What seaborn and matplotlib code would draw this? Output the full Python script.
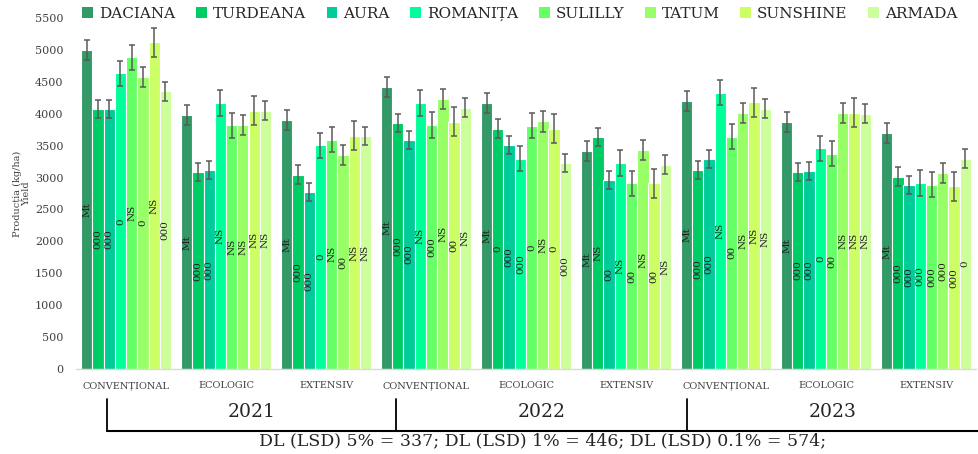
import numpy as np
import pandas as pd
import matplotlib
matplotlib.use('Agg')
import matplotlib.pyplot as plt
from matplotlib.lines import Line2D
from matplotlib.patches import Patch
import seaborn as sns

# soiuri si culori
varieties = ['DACIANA', 'TURDEANA', 'AURA', 'ROMANIȚA', 'SULILLY', 'TATUM', 'SUNSHINE', 'ARMADA']
colors = ['#339966', '#00CC66', '#00CC99', '#00FF99', '#66FF66', '#99FF66', '#CCFF66', '#CCFF99']

years = ['2021', '2022', '2023']
systems = ['CONVENȚIONAL', 'ECOLOGIC', 'EXTENSIV']

# productia (kg/ha) pe grupe: 2021 C/E/X, 2022 C/E/X, 2023 C/E/X
daciana = [5000, 3974, 3905, 4426, 4168, 3421, 4205, 3874, 3695]
turdeana = [4079, 3084, 3047, 3853, 3768, 3632, 3121, 3089, 3016]
aura = [4079, 3116, 2768, 3595, 3505, 2963, 3284, 3100, 2889]
romanita = [4632, 4168, 3505, 4168, 3295, 3232, 4332, 3458, 2911]
sulilly = [4884, 3816, 3595, 3821, 3811, 2911, 3642, 3374, 2889]
tatum = [4574, 3821, 3353, 4237, 3879, 3432, 4016, 4016, 3068]
sunshine = [5121, 4047, 3653, 3874, 3763, 2911, 4179, 4016, 2863]
armada = [4353, 4047, 3653, 4095, 3226, 3200, 4079, 4000, 3295]

# eroarea standard (aceeasi pe serie)
errors = [157, 142, 140, 200, 199, 158, 228, 146]

# semnificatii
sig_daciana = ['Mt'] * 9
sig_turdeana = ['000', '000', '000', '000', '0', 'NS', '000', '000', '000']
sig_aura = ['000', '000', '000', '000', '000', '00', '000', '000', '000']
sig_romanita = ['0', 'NS', '0', 'NS', '000', 'NS', 'NS', '0', '000']
sig_sulilly = ['NS', 'NS', 'NS', '000', '0', '00', '00', '00', '000']
sig_tatum = ['0', 'NS', '00', 'NS', 'NS', 'NS', 'NS', 'NS', '000']
sig_sunshine = ['NS', 'NS', 'NS', '00', '0', '00', 'NS', 'NS', '000']
sig_armada = ['000', 'NS', 'NS', 'NS', '000', 'NS', 'NS', 'NS', '0']

lsd_text = 'DL (LSD) 5% = 337; DL (LSD) 1% = 446; DL (LSD) 0.1% = 574;'

values = [daciana, turdeana, aura, romanita, sulilly, tatum, sunshine, armada]
sigs = [sig_daciana, sig_turdeana, sig_aura, sig_romanita, sig_sulilly, sig_tatum, sig_sunshine, sig_armada]

groups = [f'{y} {s}' for y in years for s in systems]
rows = []
for v, vals in zip(varieties, values):
    for g, val in zip(groups, vals):
        rows.append({'grup': g, 'soi': v, 'productie': val})
df = pd.DataFrame(rows)

sns.set_style('white')
plt.rcParams['font.family'] = ['DejaVu Serif']

fig, ax = plt.subplots(figsize=(9.79, 4.54), dpi=100)
ax.set_position([76 / 979, 1 - 369 / 454, 900 / 979, (369 - 18) / 454])

sns.barplot(data=df, x='grup', y='productie', hue='soi', order=groups, hue_order=varieties,
            palette=colors, saturation=1, width=0.9, errorbar=None, edgecolor='white',
            linewidth=0.8, ax=ax)
if ax.legend_ is not None:
    ax.legend_.remove()

for cont, err, lab in zip(ax.containers, errors, sigs):
    xs = [b.get_x() + b.get_width() / 2 for b in cont]
    hs = [b.get_height() for b in cont]
    ax.errorbar(xs, hs, yerr=err, fmt='none', ecolor='#5a5a5a', elinewidth=1.1,
                capsize=2.5, capthick=1.1)
    ax.bar_label(cont, labels=lab, label_type='center', rotation=90, fontsize=7.5, color='#222222')

ax.set_xlim(-0.5, 8.5)
ax.set_ylim(0, 5500)
ax.set_yticks(np.arange(0, 5501, 500))
ax.set_xticks(range(len(groups)))
ax.set_xticklabels(systems * len(years))
ax.tick_params(axis='x', length=0, pad=9, labelsize=7, labelcolor='#404040')
ax.tick_params(axis='y', length=0, pad=9, labelsize=8, labelcolor='#404040')
ax.set_xlabel('')
ax.set_ylabel('Producția (kg/ha)\nYield', fontsize=7, linespacing=1.0, color='#404040')
ax.yaxis.set_label_coords(-0.05, 0.5)
sns.despine(ax=ax, left=True)
ax.spines['bottom'].set_color('#D9D9D9')
ax.spines['bottom'].set_linewidth(1)

handles = [Patch(facecolor=c, edgecolor='none') for c in colors]
fig.legend(handles, varieties, loc='center', bbox_to_anchor=(520 / 979, 1 - 14 / 454), ncol=8,
           frameon=False, fontsize=11, handlelength=0.7, handleheight=0.7, handletextpad=0.4,
           columnspacing=1.35, borderaxespad=0, labelcolor='#262626')

# acolada ani
xb = [107, 396, 687]
for x in xb:
    fig.add_artist(Line2D([x / 979, x / 979], [1 - 399 / 454, 1 - 431 / 454], color='black', lw=1.3))
fig.add_artist(Line2D([107 / 979, 1], [1 - 431 / 454, 1 - 431 / 454], color='black', lw=1.5))
for i, y in enumerate(years):
    left = xb[i]
    right = xb[i + 1] if i + 1 < len(xb) else 979
    fig.text((left + right) / 2 / 979, 1 - 412 / 454, y, ha='center', va='center', fontsize=13.5)

fig.text(543 / 979, 1 - 441 / 454, lsd_text, ha='center', va='center', fontsize=12.5)

fig.savefig('out.png', dpi=100)
